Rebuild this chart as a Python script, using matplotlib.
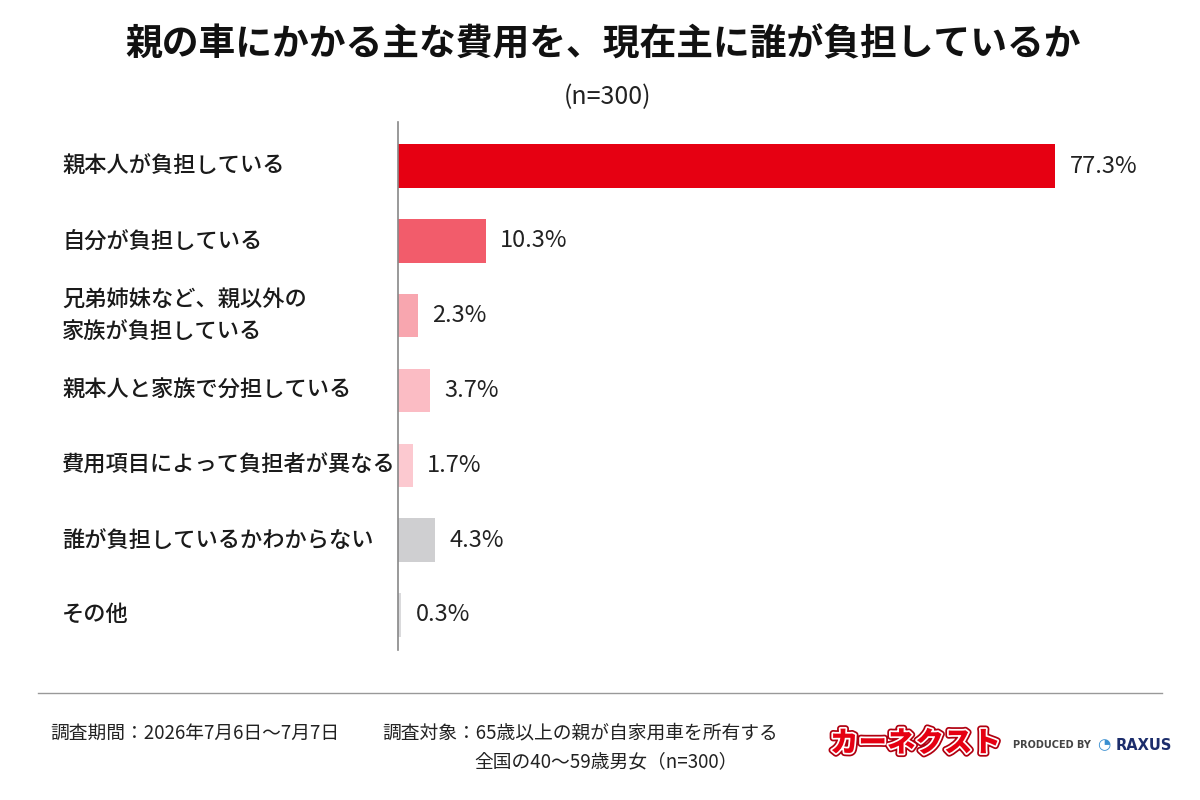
import matplotlib
matplotlib.use("Agg")
import matplotlib.pyplot as plt
import matplotlib.patheffects as pe
import matplotlib.transforms as mtransforms

plt.rcParams['font.family'] = ['Noto Sans CJK JP', 'DejaVu Sans']

categories = [
    "親本人が負担している",
    "自分が負担している",
    "兄弟姉妹など、親以外の\n家族が負担している",
    "親本人と家族で分担している",
    "費用項目によって負担者が異なる",
    "誰が負担しているかわからない",
    "その他",
]
values = [77.3, 10.3, 2.3, 3.7, 1.7, 4.3, 0.3]
colors = ["#E60012", "#F25C6B", "#F8A6AF", "#FBBCC4", "#FCC9D0", "#CFCFD1", "#DADADC"]

title = "親の車にかかる主な費用を、現在主に誰が負担しているか"
subtitle = "(n=300)"
footer_period = "調査期間：2026年7月6日〜7月7日"
footer_target1 = "調査対象：65歳以上の親が自家用車を所有する"
footer_target2 = "全国の40〜59歳男女（n=300）"

fig = plt.figure(figsize=(12, 8), dpi=100)
fig.patch.set_facecolor("white")

ax = fig.add_axes([0.332, 0.1875, 0.64, 0.66])
n = len(categories)
ypos = list(range(n))
ax.barh(ypos, values, height=0.58, color=colors)
ax.set_ylim(6.47, -0.59)
ax.set_xlim(0, 90.4)
for s in ["top", "right", "bottom"]:
    ax.spines[s].set_visible(False)
ax.spines["left"].set_color("#888888")
ax.spines["left"].set_linewidth(1.2)
ax.set_xticks([])
ax.set_yticks([])

for y, v in zip(ypos, values):
    ax.text(v + 1.7, y, f"{v}%", va="center", ha="left", fontsize=17, color="#222222")

lab_tr = mtransforms.blended_transform_factory(fig.transFigure, ax.transData)
for y, c in zip(ypos, categories):
    ax.text(62 / 1200, y, c, transform=lab_tr, va="center", ha="left",
            fontsize=16, fontweight="medium", color="#1a1a1a", linespacing=1.5)

fig.text(0.503, 1 - 45 / 800, title, ha="center", va="center", fontsize=26.5, fontweight="bold", color="#111111")
fig.text(608 / 1200, 1 - 97 / 800, subtitle, ha="center", va="center", fontsize=18, color="#222222")

fig.add_artist(plt.Line2D([38 / 1200, 1162 / 1200], [1 - 693 / 800, 1 - 693 / 800], color="#999999", lw=1))

fig.text(50 / 1200, 1 - 733 / 800, footer_period, ha="left", va="center", fontsize=13.5, color="#222222")
fig.text(382 / 1200, 1 - 733 / 800, footer_target1, ha="left", va="center", fontsize=13.5, color="#222222")
fig.text(474 / 1200, 1 - 762 / 800, footer_target2, ha="left", va="center", fontsize=13.5, color="#222222")

logo = fig.text(830 / 1200, 1 - 743 / 800, "カーネクスト", ha="left", va="center", fontsize=20.5,
                fontweight="heavy", style="italic", color="#E60012")
logo.set_path_effects([pe.Stroke(linewidth=5, foreground="#B00010"), pe.Stroke(linewidth=2.5, foreground="white"), pe.Normal()])
fig.text(1013 / 1200, 1 - 745 / 800, "PRODUCED BY", ha="left", va="center", fontsize=7,
         fontweight="bold", color="#444444", family=["DejaVu Sans"])
fig.text(1104 / 1200, 1 - 745 / 800, "◔", ha="center", va="center", fontsize=11, color="#3A8FD0", family=["DejaVu Sans"])
fig.text(1116 / 1200, 1 - 745 / 800, "RAXUS", ha="left", va="center", fontsize=10.5,
         fontweight="bold", color="#1C2D6B", family=["DejaVu Sans"])

fig.savefig("out.png", dpi=100, facecolor="white")
